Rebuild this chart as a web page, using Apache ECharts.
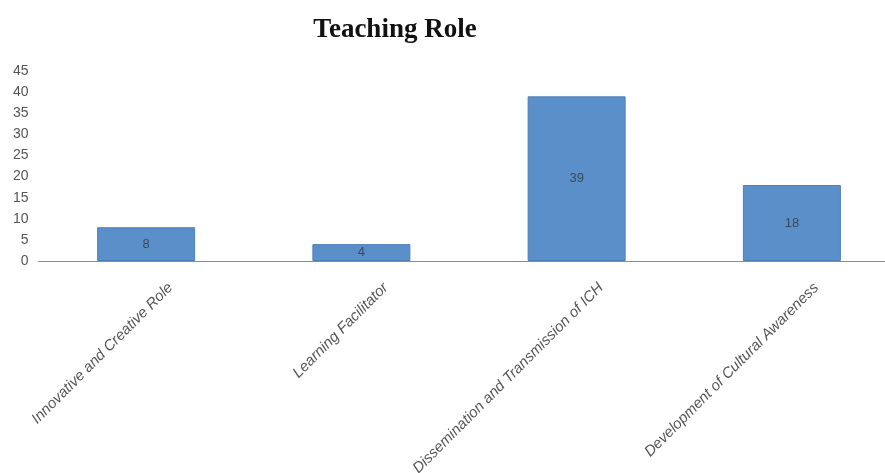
<!DOCTYPE html>
<html><head><meta charset="utf-8">
<script src="https://cdn.jsdelivr.net/npm/echarts@6/dist/echarts.min.js"></script>
<style>html,body{margin:0;padding:0;background:#fff}#c{width:885px;height:473px}</style>
</head><body><div id="c"></div>
<script>
const categories = ['Innovative and Creative Role', 'Learning Facilitator', 'Dissemination and Transmission of ICH', 'Development of Cultural Awareness'];
const values = [8, 4, 39, 18];
const yTicks = [0, 5, 10, 15, 20, 25, 30, 35, 40, 45];

const chart = echarts.init(document.getElementById('c'), null, {renderer: 'canvas'});
chart.setOption({
  animation: false,
  title: {
    text: 'Teaching Role',
    left: 390, top: 12, textAlign: 'center',
    textStyle: {fontFamily: 'Liberation Serif', fontWeight: 'bold', fontSize: 27, color: '#111'}
  },
  grid: {left: 38.5, width: 861, top: 71, bottom: 212, containLabel: false, outerBoundsMode: 'none'},
  xAxis: {
    type: 'category', data: categories,
    axisLine: {lineStyle: {color: '#8c8c8c', width: 1.2}},
    axisTick: {show: false},
    axisLabel: {
      interval: 0, rotate: 45, margin: 0,
      verticalAlign: 'top', padding: [27, 0, 0, 0],
      fontFamily: 'Liberation Sans', fontStyle: 'italic', fontSize: 15, color: '#555'
    }
  },
  yAxis: {
    type: 'value', min: yTicks[0], max: yTicks[yTicks.length - 1], interval: 5,
    splitLine: {show: false},
    axisLine: {show: false}, axisTick: {show: false},
    axisLabel: {margin: 10, fontFamily: 'Liberation Sans', fontSize: 14, color: '#555'}
  },
  series: [{
    type: 'bar', data: values, barWidth: 98,
    itemStyle: {color: '#5b8fc9', borderColor: '#4f80b8', borderWidth: 1},
    label: {show: true, position: 'inside', fontFamily: 'Liberation Sans', fontSize: 13, color: '#3a4a5c'}
  }]
});
</script></body></html>
